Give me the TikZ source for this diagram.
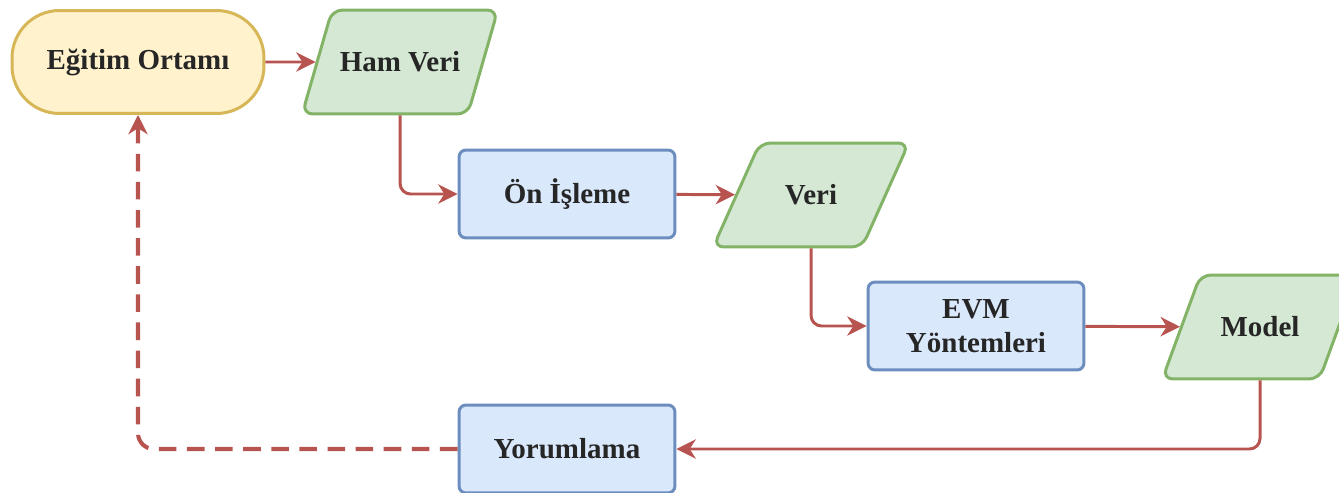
\documentclass[tikz,border=0pt]{standalone}
\usepackage{fontspec}
\setmainfont{Liberation Serif}
\usetikzlibrary{positioning,shapes.geometric,arrows.meta}
\definecolor{yfill}{HTML}{FFF2CC}
\definecolor{ydraw}{HTML}{D6B656}
\definecolor{gfill}{HTML}{D5E8D4}
\definecolor{gdraw}{HTML}{82B366}
\definecolor{bfill}{HTML}{DAE8FC}
\definecolor{bdraw}{HTML}{6C8EBF}
\definecolor{flow}{HTML}{B85450}
\definecolor{txt}{HTML}{262626}
\begin{document}
\begin{tikzpicture}[x=0.02cm,y=-0.02cm,
  every node/.style={font=\fontsize{16.5}{19}\selectfont\bfseries, text=txt, align=center},
  start/.style={draw=ydraw, fill=yfill, line width=1.7pt, rounded corners=0.95cm,
    minimum width=5.04cm, minimum height=2.06cm},
  proc/.style={draw=bdraw, fill=bfill, line width=1.7pt, rounded corners=4pt,
    minimum width=4.32cm, minimum height=1.76cm},
  io/.style={trapezium, trapezium left angle=48, trapezium right angle=132,
    trapezium stretches=true, draw=gdraw, fill=gfill, line width=1.7pt,
    rounded corners=6pt, minimum width=3.92cm, minimum height=2.08cm},
  flowline/.style={draw=flow, line width=1.7pt, rounded corners=6pt,
    -{Stealth[length=11pt,width=11pt,inset=3.5pt]}},
  backline/.style={flowline, line width=2.3pt, rounded corners=9pt,
    dash pattern=on 10pt off 6pt}]
\clip (0,0) rectangle (1339,493);
\useasboundingbox (0,0) rectangle (1339,493);
\node [start] (egitim) at (138,62) {Eğitim Ortamı};
\node [io] (hamveri) at (400,62) {Ham Veri};
\node [proc] (onisleme) at (567,194) {Ön İşleme};
\node [io] (veri) at (811,195) {Veri};
\node [proc] (evm) at (976,326) {EVM\\Yöntemleri};
\node [io] (model) at (1260,327) {Model};
\node [proc] (yorum) at (567,449) {Yorumlama};
\draw [flowline] (egitim) -- (hamveri);
\draw [flowline] (hamveri.south) |- (onisleme.west);
\draw [flowline] (onisleme) -- (veri);
\draw [flowline] (veri.south) |- (evm.west);
\draw [flowline] (evm) -- (model);
\draw [flowline] (model.south) |- (yorum.east);
\draw [backline] (yorum.west) -| (egitim.south);
\end{tikzpicture}
\end{document}
